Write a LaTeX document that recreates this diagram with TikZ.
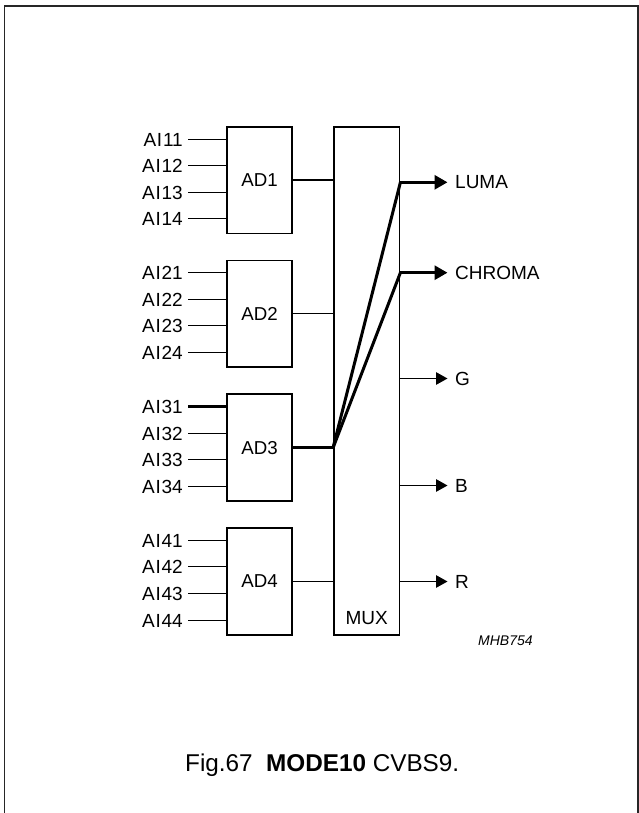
\documentclass[tikz,border=0pt]{standalone}
\usepackage{fontspec}
\setmainfont{Liberation Sans}
\usetikzlibrary{arrows.meta}
\begin{document}
\begin{tikzpicture}[x=1pt,y=-1pt,
  lbl/.style={inner sep=0pt,font=\fontsize{19}{21}\selectfont},
  adbox/.style={draw,line width=1.8pt,inner sep=0pt,minimum width=65.6pt,minimum height=106.7pt,font=\fontsize{18.7}{20}\selectfont},
  thin/.style={line width=1.2pt},
  heavy/.style={line width=3pt},
  thinarrow/.style={line width=1.2pt,-{Triangle[length=11.5pt,width=12.5pt]}},
  heavyarrow/.style={line width=3pt,-{Triangle[length=13pt,width=14pt]}}
]
\useasboundingbox (0,0) rectangle (639,813);
% frame
\draw[line width=1.5pt,black!85] (4.5,813) -- (4.5,6) -- (638,6) -- (638,813);

% AD boxes and input labels
\foreach \i/\t/\ya/\yb/\yc/\yd in {1/126.7/139.5/165.5/192.5/218.5,
                                    2/260.5/272.5/299.5/325.5/352.5,
                                    3/394.3/406.5/433.5/459.5/486.5,
                                    4/528.1/540.5/566.5/593.5/620.5}{
  \node[adbox] (ad\i) at (259.5,\t+53.35) {AD\i};
  \node[lbl,anchor=east] (ai\i1) at (183,\ya) {A\kern0.8pt I\kern0.8pt\i1};
  \node[lbl,anchor=east] (ai\i2) at (183,\yb) {A\kern0.8pt I\kern0.8pt\i2};
  \node[lbl,anchor=east] (ai\i3) at (183,\yc) {A\kern0.8pt I\kern0.8pt\i3};
  \node[lbl,anchor=east] (ai\i4) at (183,\yd) {A\kern0.8pt I\kern0.8pt\i4};
}
% MUX
\node[draw,line width=1.8pt,inner sep=0pt,minimum width=65.5pt,minimum height=508pt] (mux) at (366.75,380.7) {};
\node[lbl] (muxl) at (366.75,618) {MUX};

% inputs
\foreach \i in {1,2,3,4}{
  \foreach \j in {1,2,3,4}{
    \ifnum\i\j=31
      \draw[heavy] ([xshift=5pt]ai\i\j.east) -- (ai\i\j.east -| ad\i.west);
    \else
      \draw[thin] ([xshift=5pt]ai\i\j.east) -- (ai\i\j.east -| ad\i.west);
    \fi
  }
}
% AD to MUX
\draw[thin] (ad1.east) -- (ad1.east -| mux.west);
\draw[thin] (ad2.east) -- (ad2.east -| mux.west);
\draw[thin] (ad4.east) -- (ad4.east -| mux.west);
\coordinate (j) at (ad3.east -| mux.west);
\draw[heavy] (ad3.east) -- (j);

% outputs
\node[lbl,anchor=west] (luma) at (455,182.3) {LUMA};
\node[lbl,anchor=west] (chroma) at (455,272.7) {CHROMA};
\node[lbl,anchor=west] (g) at (455,378.5) {G};
\node[lbl,anchor=west] (b) at (455,485.5) {B};
\node[lbl,anchor=west] (r) at (455,581.5) {R};

\coordinate (lumaj) at (luma.west -| mux.east);
\coordinate (chromaj) at (chroma.west -| mux.east);
\draw[heavy,line join=round] (j) -- (lumaj);
\draw[heavy,line join=round] (j) -- (chromaj);
\draw[heavyarrow] (lumaj) -- ([xshift=-7.5pt]luma.west);
\draw[heavyarrow] (chromaj) -- ([xshift=-7.5pt]chroma.west);
\draw[thinarrow] (g.west -| mux.east) -- ([xshift=-7.5pt]g.west);
\draw[thinarrow] (b.west -| mux.east) -- ([xshift=-7.5pt]b.west);
\draw[thinarrow] (r.west -| mux.east) -- ([xshift=-7.5pt]r.west);

\node[inner sep=0pt,anchor=west,font=\fontsize{14}{16}\selectfont\itshape] (code) at (478,641) {MHB754};

\node[inner sep=0pt,anchor=base west,font=\fontsize{24.3}{27}\selectfont] (cap) at (185,771) {Fig.67\hspace{0.55em}\textbf{MODE10} CVBS9.};
\end{tikzpicture}
\end{document}
